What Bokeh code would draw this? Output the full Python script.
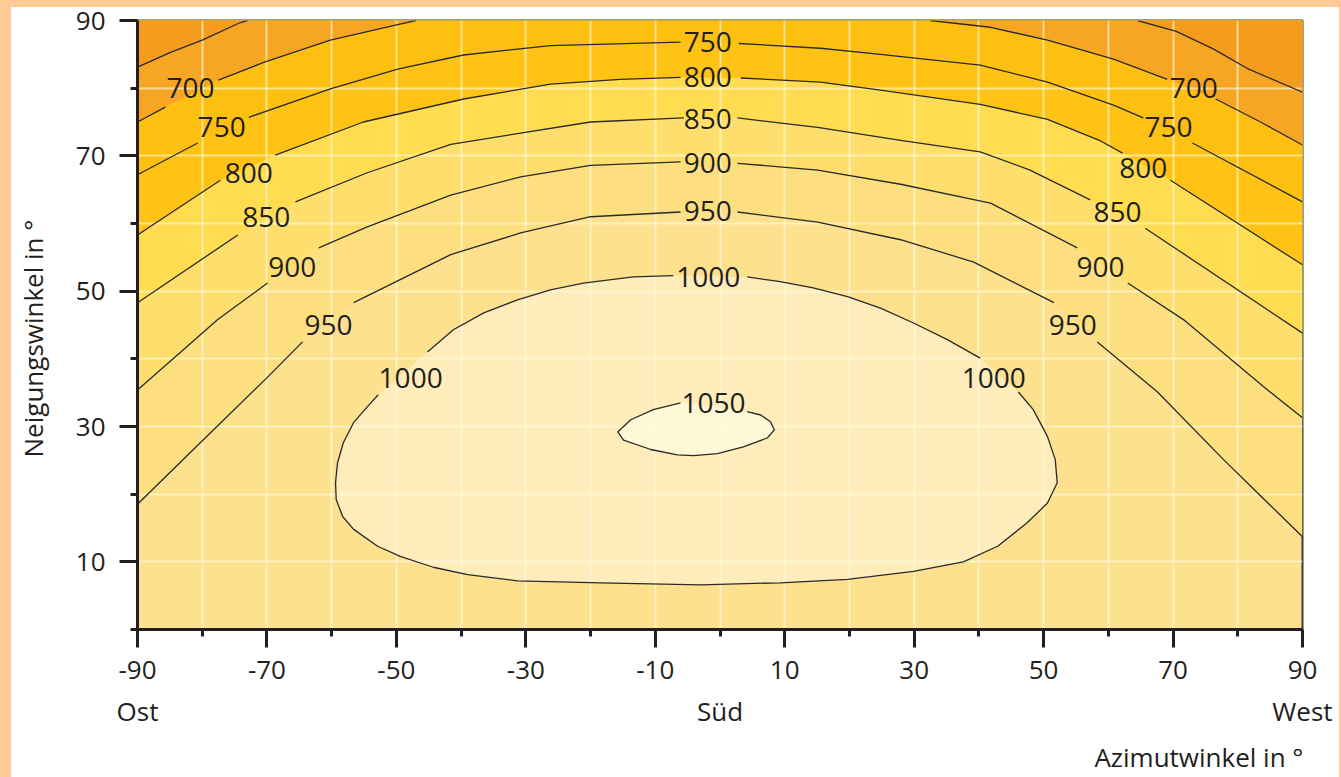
import numpy as np
from bokeh.plotting import figure
from bokeh.models import FixedTicker, Range1d, ColumnDataSource, LinearAxis
from bokeh.layouts import column
from bokeh.embed import file_html
from bokeh.resources import INLINE
from bokeh.core.properties import value

nan = float("nan")

# ---------------- data ----------------
# contour lines: azimuth (deg) / tilt (deg); nan = gap where the line is labelled
az_650_left = [-90, -84.9, -80.0, -74.1, -73.0]
tilt_650_left = [83.1, 85.3, 87.1, 89.7, 90.0]
az_650_right = [64.5, 70.5, 76.2, 81.5, 90]
tilt_650_right = [90.0, 88.4, 85.8, 82.9, 79.4]

az_700_left = [-90, -85.7, nan, -77.5, -70.5, -60.2, -49.8, -47.0]
tilt_700_left = [75.0, 77.2, nan, 81.2, 83.8, 87.1, 89.4, 90.0]
az_700_right = [32.5, 41.8, 50.6, 60.8, 69.1, nan, 76.6, 83.5, 90]
tilt_700_right = [90.0, 89.0, 87.1, 84.3, 81.3, nan, 78.4, 75.0, 71.6]

az_750 = [-90, -80.7, nan, -72.8, -60.2, -49.8, -39.6, -26.2, -6.1, nan,
          2.9, 15.5, 24.8, 40.2, 50.6, 60.8, 65.4, nan, 73.0, 90]
tilt_750 = [67.2, 71.9, nan, 75.7, 79.9, 82.8, 84.9, 86.3, 86.8, nan,
            86.6, 85.9, 85.0, 83.4, 80.9, 77.5, 75.6, nan, 71.9, 63.2]

az_800 = [-90, -77.2, nan, -68.7, -55.1, -39.6, -26.2, -15.4, -6.1, nan,
          3.2, 15.5, 24.8, 40.2, 50.6, 58.8, 62.2, nan, 69.6, 90]
tilt_800 = [58.3, 66.4, nan, 70.1, 75.0, 78.4, 80.6, 81.3, 81.6, nan,
            81.5, 80.9, 79.7, 77.6, 75.4, 72.2, 70.4, nan, 66.4, 53.9]

az_850 = [-90, -74.5, nan, -65.6, -54.5, -41.6, -20.0, -5.6, nan,
          2.7, 15.1, 27.9, 40.2, 47.9, 57.2, nan, 65.7, 90]
tilt_850 = [48.3, 58.3, nan, 63.2, 67.5, 71.7, 75.0, 75.6, nan,
            75.6, 74.2, 72.3, 70.6, 67.9, 63.5, nan, 59.3, 43.8]

az_900 = [-90, -77.6, -69.9, nan, -62.0, -54.5, -41.6, -30.8, -20.0, -6.1, nan,
          2.7, 15.1, 27.9, 41.8, 55.2, nan, 63.0, 71.6, 84.6, 90]
tilt_900 = [35.4, 45.8, 51.2, nan, 56.4, 59.5, 64.2, 66.9, 68.6, 69.1, nan,
            68.9, 67.9, 65.8, 63.0, 56.4, nan, 51.2, 45.8, 35.4, 31.3]

az_950 = [-90, -80.3, -69.9, -64.5, nan, -56.6, -41.6, -30.8, -20.0, -6.1, nan,
          2.7, 15.1, 27.9, 39.2, 51.6, nan, 58.3, 67.6, 77.8, 90]
tilt_950 = [18.5, 27.6, 37.3, 42.5, nan, 48.3, 55.4, 58.6, 61.0, 61.7, nan,
            61.7, 60.2, 57.6, 54.3, 48.3, nan, 42.5, 35.1, 25.1, 13.7]

az_1000 = [-45.2, -41.2, -36.5, -31.3, -26.2, -21.1, -13.4, -7.2, nan,
           4.2, 9.3, 14.4, 19.7, 24.8, 29.9, 35.2, 40.2, nan,
           46.1, 48.4, 50.6, 51.8, 52.1, 50.6, 47.5, 42.9, 37.6, 29.9, 19.7, 9.3,
           -3.0, -18.5, -31.3, -39.0, -44.3, -49.4, -52.9, -56.6, -58.3, -59.3,
           -59.4, -59.1, -58.2, -56.6, -54.5, -52.8]
tilt_1000 = [41.0, 44.3, 46.8, 48.7, 50.2, 51.2, 52.1, 52.3, nan,
             52.1, 51.4, 50.5, 49.2, 47.5, 45.3, 42.8, 40.1, nan,
             35.1, 32.5, 28.5, 25.1, 21.7, 18.7, 15.8, 12.3, 10.0, 8.6, 7.4, 6.9,
             6.6, 6.9, 7.2, 8.1, 9.2, 10.8, 12.3, 14.8, 16.7, 19.2,
             21.7, 24.6, 27.6, 30.6, 32.9, 34.7]

az_1050 = [4.2, 6.3, 7.8, 8.4, 7.3, 3.6, -0.4, -4.1, -6.6, -10.7, -14.9, -15.8, -13.8, -10.3, -6.1]
tilt_1050 = [32.2, 31.7, 30.7, 29.5, 28.3, 27.0, 26.0, 25.7, 25.8, 26.6, 28.0, 29.2, 31.0, 32.5, 33.5]

# contour labels
label_text = ["700", "750", "800", "850", "900", "950", "1000",
              "750", "800", "850", "900", "950", "1000", "1050",
              "700", "750", "800", "850", "900", "950", "1000"]
label_az = [-81.8, -77.0, -72.8, -70.1, -66.1, -60.5, -47.8,
            -1.9, -1.9, -1.9, -1.9, -1.9, -1.8, -1.0,
            73.2, 69.3, 65.4, 61.4, 58.8, 54.5, 42.3]
label_tilt = [80.0, 74.2, 67.5, 61.0, 53.6, 45.0, 37.2,
              86.8, 81.6, 75.4, 68.9, 61.8, 52.1, 33.5,
              80.0, 74.2, 68.2, 61.7, 53.6, 45.0, 37.2]

x_major = [-90, -70, -50, -30, -10, 10, 30, 50, 70, 90]
x_minor = [-80, -60, -40, -20, 0, 20, 40, 60, 80]
y_major = [10, 30, 50, 70, 90]
y_minor = [0, 20, 40, 60, 80]
grid_x = list(range(-90, 91, 10))
grid_y = list(range(0, 91, 10))
direction_text = ["Ost", "Süd", "West"]
direction_az = [-90, 0, 90]
x_title = "Azimutwinkel in °"
x_title_az = 74
y_title = "Neigungswinkel in °"
y_title_tilt = 43

AZ_MIN, AZ_MAX, TILT_MIN, TILT_MAX = -90, 90, 0, 90

# ---------------- styling ----------------
FONT = "Open Sans"
INK = "#231F20"
PEACH = "#FFCA96"
C_LT650 = "#F49C1E"
C_650 = "#F7A623"
C_700 = "#FDBF10"
C_750 = "#FEC314"
C_800 = "#FFDC50"
C_850 = "#FEDE6C"
C_900 = "#FDDF80"
C_950 = "#FDE18F"
C_1000 = "#FEECBB"
C_1050 = "#FFF8D6"

p = figure(width=1328, height=777, x_range=Range1d(AZ_MIN, AZ_MAX), y_range=Range1d(TILT_MIN, TILT_MAX),
           output_backend="svg", toolbar_location=None,
           min_border_left=126, min_border_right=37, min_border_top=20, min_border_bottom=147)
p.margin = (0, 2, 0, 11)
p.styles = {"background": "linear-gradient(to bottom, %s 0px, %s 7px, #FFFFFF 7px, #FFFFFF 100%%)" % (PEACH, PEACH)}
p.background_fill_color = C_950
p.border_fill_color = None
p.outline_line_color = "#3A3A3A"
p.outline_line_width = 2


def clean(a, t):
    a = np.asarray(a, float)
    t = np.asarray(t, float)
    m = ~np.isnan(a)
    return list(a[m]), list(t[m])


# filled bands (drawn from the outermost region inward)
for a, t, col in [(az_950, tilt_950, C_900), (az_900, tilt_900, C_850), (az_850, tilt_850, C_800),
                  (az_800, tilt_800, C_750), (az_750, tilt_750, C_700)]:
    xa, ya = clean(a, t)
    p.patch(xa + [AZ_MAX, AZ_MIN], ya + [TILT_MAX, TILT_MAX], fill_color=col, line_color=None, level="image")
for a, t, col in [(az_700_left, tilt_700_left, C_650), (az_650_left, tilt_650_left, C_LT650)]:
    xa, ya = clean(a, t)
    p.patch(xa + [AZ_MIN], ya + [TILT_MAX], fill_color=col, line_color=None, level="image")
for a, t, col in [(az_700_right, tilt_700_right, C_650), (az_650_right, tilt_650_right, C_LT650)]:
    xa, ya = clean(a, t)
    p.patch(xa + [AZ_MAX], ya + [TILT_MAX], fill_color=col, line_color=None, level="image")
for a, t, col in [(az_1000, tilt_1000, C_1000), (az_1050, tilt_1050, C_1050)]:
    xa, ya = clean(a, t)
    p.patch(xa, ya, fill_color=col, line_color=None, level="image")

# contour lines
for a, t in [(az_650_left, tilt_650_left), (az_650_right, tilt_650_right),
             (az_700_left, tilt_700_left), (az_700_right, tilt_700_right),
             (az_750, tilt_750), (az_800, tilt_800), (az_850, tilt_850),
             (az_900, tilt_900), (az_950, tilt_950), (az_1000, tilt_1000), (az_1050, tilt_1050)]:
    p.line(a, t, line_color="#2A2A2A", line_width=1.3, line_join="round")

src = ColumnDataSource(dict(x=label_az, y=label_tilt, text=label_text))
p.text(x="x", y="y", text="text", source=src, text_font=value(FONT), text_font_size="28px",
       text_align="center", text_baseline="middle", text_color=INK)

# grid
p.xgrid.ticker = FixedTicker(ticks=grid_x)
p.ygrid.ticker = FixedTicker(ticks=grid_y)
for g in (p.xgrid, p.ygrid):
    g.grid_line_color = "#FFFBE0"
    g.grid_line_alpha = 0.6
    g.grid_line_width = 2

# axes
p.xaxis.ticker = FixedTicker(ticks=x_major, minor_ticks=x_minor)
p.yaxis.ticker = FixedTicker(ticks=y_major, minor_ticks=y_minor)
p.xaxis.major_label_overrides = {v: str(v) for v in x_major}
for ax in (p.xaxis, p.yaxis):
    ax.axis_line_color = INK
    ax.axis_line_width = 3
    ax.major_tick_line_color = INK
    ax.minor_tick_line_color = INK
    ax.major_tick_line_width = 3
    ax.minor_tick_line_width = 3
    ax.major_tick_in = 0
    ax.minor_tick_in = 0
    ax.major_tick_out = 18
    ax.minor_tick_out = 7
    ax.major_label_text_font = FONT
    ax.major_label_text_font_size = "26px"
    ax.major_label_text_color = INK
p.xaxis.major_label_standoff = 13
p.yaxis.major_label_standoff = 14


def text_axis(ticks, labels, standoff, orientation="horizontal"):
    ax = LinearAxis(ticker=FixedTicker(ticks=ticks, minor_ticks=[]),
                    major_label_overrides=dict(zip(ticks, labels)),
                    axis_line_color=None, major_tick_line_color=None, minor_tick_line_color=None,
                    major_tick_out=0, major_tick_in=0, minor_tick_out=0, minor_tick_in=0,
                    major_label_standoff=standoff, major_label_orientation=orientation,
                    major_label_text_font=FONT, major_label_text_font_size="26px",
                    major_label_text_color=INK)
    return ax


p.add_layout(text_axis(direction_az, direction_text, 11), "below")
p.add_layout(text_axis([x_title_az], [x_title], 7), "below")
p.add_layout(text_axis([y_title_tilt], [y_title], 21, "vertical"), "left")

root = column(p, styles={"background-color": PEACH})
open("out.html", "w").write(file_html(root, INLINE))
